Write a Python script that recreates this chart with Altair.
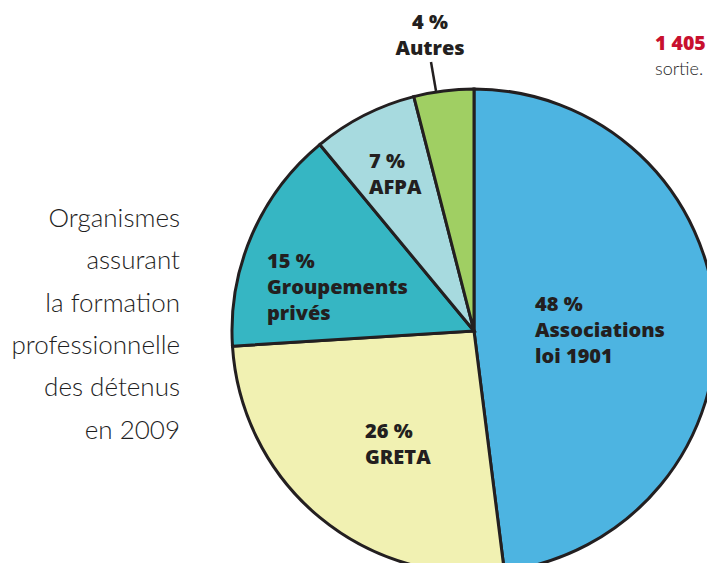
import altair as alt
import pandas as pd

# ---- data ----
names = ["Associations loi 1901", "GRETA", "Groupements privés", "AFPA", "Autres"]
label_lines = ["Associations\nloi 1901", "GRETA", "Groupements\nprivés", "AFPA", "Autres"]
pcts = [48, 26, 15, 7, 4]
colors = ["#4DB4E1", "#F1F1B2", "#36B6C3", "#A7DADF", "#A0CF63"]
title_lines = ["Organismes", "assurant", "la formation", "professionnelle",
               "des détenus", "en 2009"]
side_big = "1 405"
side_small = "sortie."

df = pd.DataFrame({"name": names, "lines": label_lines, "pct": pcts,
                   "idx": list(range(len(names)))})

CX, CY, R = 466, 323, 242
INK = "#231F20"

base = alt.Chart(df)

pie = base.mark_arc(x=CX, y=CY, outerRadius=R, stroke=INK, strokeWidth=3).encode(
    theta=alt.Theta("pct:Q", stack=True),
    order=alt.Order("idx:Q"),
    color=alt.Color("name:N", scale=alt.Scale(domain=names, range=colors), legend=None),
)

# label placement (annotation positions, chart coords) for each slice
label_pos = {
    "Associations loi 1901": (527, 303, "left"),
    "GRETA": (357, 430, "left"),
    "Groupements privés": (259, 260, "left"),
    "AFPA": (361, 160, "left"),
    "Autres": (422, 21, "center"),
}

labels = []
for n in names:
    x, y, a = label_pos[n]
    labels.append(
        base.transform_filter(alt.datum.name == n)
        .transform_calculate(txt="datum.pct + ' %\\n' + datum.lines")
        .mark_text(x=x, y=y, align=a, baseline="alphabetic", lineBreak="\n",
                   lineHeight=26, font="Open Sans", fontWeight=800,
                   fontSize=20, color=INK)
        .encode(text="txt:N")
    )

leader = base.transform_filter(alt.datum.name == "Autres").mark_rule(
    stroke=INK, strokeWidth=2.5
).encode(x=alt.value(423), y=alt.value(54), x2=alt.value(428), y2=alt.value(83))

title_df = pd.DataFrame({"t": ["\n".join(title_lines)]})
title = alt.Chart(title_df).mark_text(
    x=172, y=219, align="right", baseline="alphabetic", lineBreak="\n",
    lineHeight=42.3, font="Lato", fontWeight=300, fontSize=26, color="#1E1E1E"
).encode(text="t:N")

side_df = pd.DataFrame({"a": [side_big], "b": [side_small]})
side1 = alt.Chart(side_df).mark_text(
    x=647, y=42, align="left", baseline="alphabetic", font="Open Sans",
    fontWeight=800, fontSize=19.5, color="#C8102E"
).encode(text="a:N")
side2 = alt.Chart(side_df).mark_text(
    x=647, y=67, align="left", baseline="alphabetic", font="Lato",
    fontWeight=300, fontSize=18, color="#1E1E1E"
).encode(text="b:N")

chart = alt.layer(pie, *labels, leader, title, side1, side2).properties(
    width=699, height=555, autosize=alt.AutoSizeParams(type="none"),
    padding=0, background="white"
).configure_view(stroke=None)

chart.save("out.html", embed_options={"renderer": "svg", "actions": False})
